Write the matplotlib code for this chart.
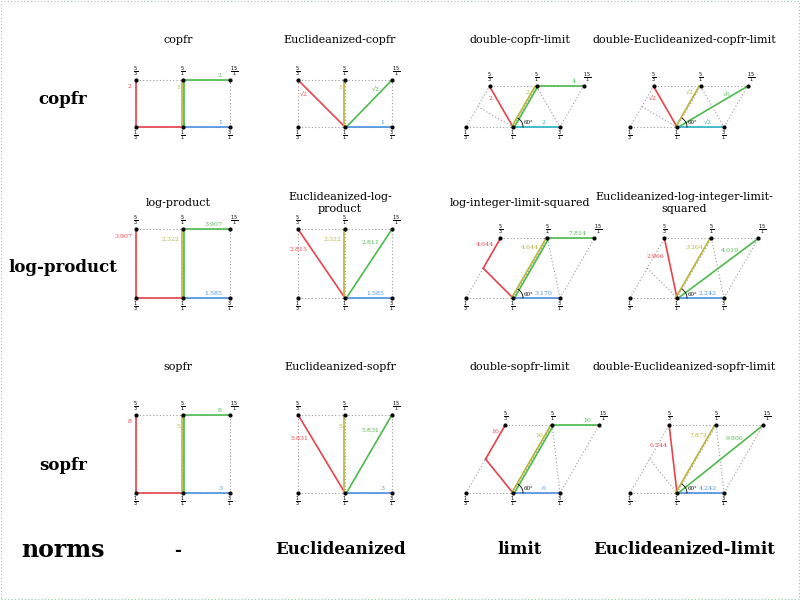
import numpy as np
import matplotlib.pyplot as plt

plt.rcParams['font.family'] = ['DejaVu Serif']

# panel data: (title, basis length for 3, basis length for 5, kind, labels red/yellow/green/blue)
row_names = ['copfr', 'log-product', 'sopfr']
col_names = ['-', 'Euclideanized', 'limit', 'Euclideanized-limit']
titles = [
    ['copfr', 'Euclideanized-copfr', 'double-copfr-limit', 'double-Euclideanized-copfr-limit'],
    ['log-product', 'Euclideanized-log-\nproduct', 'log-integer-limit-squared',
     'Euclideanized-log-integer-limit-\nsquared'],
    ['sopfr', 'Euclideanized-sopfr', 'double-sopfr-limit', 'double-Euclideanized-sopfr-limit'],
]
len3 = [1, 1.585, 3]
len5 = [1, 2.322, 5]
labels = [
    [['2', '1', '2', '1'], ['√2', '1', '√2', '1'], ['2', '2', '4', '2'], ['√2', '√2', '√6', '√2']],
    [['3.907', '2.322', '3.907', '1.585'], ['2.815', '2.322', '2.811', '1.585'],
     ['4.644', '4.644', '7.814', '3.170'], ['2.966', '3.204', '4.019', '2.242']],
    [['8', '5', '8', '3'], ['5.831', '5', '5.831', '3'],
     ['16', '16', '16', '6'], ['6.544', '7.872', '9.866', '4.242']],
]
fracs = {'bl': ('1', '3'), 'o': ('1', '1'), 'br': ('3', '1'),
         'tl': ('5', '3'), 'tm': ('5', '1'), 'tr': ('15', '1')}

col_x = [183, 345, 513, 677]
row_y = [127, 298, 493]
title_y = [40, 203, 367]
label_row_y = [100, 267, 465]
unit = 47

RED, YEL, GRN, BLU, CYA = '#e8434a', '#b9b43a', '#4cbb4c', '#4a90e2', '#27b3c6'

fig = plt.figure(figsize=(8, 6), dpi=100)
ax = fig.add_axes([0, 0, 1, 1])
ax.set_xlim(0, 800)
ax.set_ylim(600, 0)
ax.axis('off')
fig.patches.append(plt.Rectangle((0.001, 0.001), 0.998, 0.998, transform=fig.transFigure,
                                 fill=False, ec='#8fd18f', lw=0.8, ls=(0, (1, 2))))

for r in range(3):
    ax.text(63, label_row_y[r], row_names[r], fontsize=12, fontweight='bold', ha='center', va='center')
    k = len5[r] / len3[r]
    for c in range(4):
        cx, cy = col_x[c], row_y[r]
        ax.text(cx - 5 if c < 2 else cx + 7, title_y[r], titles[r][c], fontsize=8, ha='center', va='center')
        tri = c >= 2
        if tri:
            v5 = np.array([k / 2, k * np.sqrt(3) / 2])
        else:
            v5 = np.array([0, k])
        v3 = np.array([1.0, 0])
        pts = {'o': np.zeros(2), 'bl': -v3, 'br': v3, 'tm': v5, 'tl': v5 - v3, 'tr': v5 + v3}

        def P(p):
            return cx + p[0] * unit, cy - p[1] * unit

        def line(a, b, **kw):
            (x0, y0), (x1, y1) = P(a), P(b)
            ax.plot([x0, x1], [y0, y1], **kw)

        dot = dict(color='#999999', lw=0.8, ls=(0, (1, 2)))
        line(pts['bl'], pts['br'], **dot)
        line(pts['tl'], pts['tr'], **dot)
        line(pts['br'], pts['tr'], **dot)
        mid = (pts['bl'] + pts['tl']) / 2
        line(pts['bl'], pts['tl'], **dot)
        if tri:
            line(mid, pts['o'], **dot)
            line(pts['tm'], pts['br'], **dot)
        line(pts['o'], pts['tm'], **dot)

        blue = CYA if (r == 0 and tri) else BLU
        off = np.array([0.03, 0])
        lw = 1.2
        euclid = c in (1, 3)
        # red
        if euclid:
            line(pts['o'], pts['tl'], color=RED, lw=lw)
        elif tri:
            if r == 0:
                line(pts['o'], pts['tl'], color=RED, lw=lw)
            else:
                line(pts['o'], mid, color=RED, lw=lw)
                line(mid, pts['tl'], color=RED, lw=lw)
        else:
            line(pts['o'], pts['bl'], color=RED, lw=lw)
            line(pts['bl'], pts['tl'], color=RED, lw=lw)
        # yellow
        line(pts['o'] - off, pts['tm'] - off, color=YEL, lw=lw)
        # green
        if euclid:
            line(pts['o'] + off, pts['tr'], color=GRN, lw=lw)
        else:
            line(pts['o'] + off, pts['tm'] + off, color=GRN, lw=lw)
            line(pts['tm'] + off, pts['tr'], color=GRN, lw=lw)
        # blue
        line(pts['o'], pts['br'], color=blue, lw=lw)

        # value labels
        lr, ly, lg, lb = labels[r][c]
        if euclid or (tri and r == 0):
            p = P(pts['o'] * 0.3 + pts['tl'] * 0.7)
            ax.text(p[0] - 4, p[1], lr, color=RED, fontsize=4.5, ha='right', va='center')
        elif tri:
            p = P(pts['tl'])
            ax.text(p[0] - 6, p[1] + 6, lr, color=RED, fontsize=4.5, ha='right', va='center')
        else:
            p = P(pts['tl'])
            ax.text(p[0] - 4, p[1] + 7, lr, color=RED, fontsize=4.5, ha='right', va='center')
        p = P(pts['o'] * 0.15 + pts['tm'] * 0.85)
        ax.text(p[0] - 3, p[1], ly, color=YEL, fontsize=4.5, ha='right', va='center')
        if euclid:
            p = P(pts['o'] * 0.2 + pts['tr'] * 0.8)
            ax.text(p[0] - 3, p[1], lg, color=GRN, fontsize=4.5, ha='right', va='center')
        else:
            p = P(pts['tr'])
            ax.text(p[0] - 8, p[1] - 2, lg, color=GRN, fontsize=4.5, ha='right', va='bottom')
        if tri:
            p = P(pts['br'] * 0.65)
            ax.text(p[0], p[1] - 2, lb, color=blue, fontsize=4.5, ha='center', va='bottom')
        else:
            p = P(pts['br'])
            ax.text(p[0] - 8, p[1] - 2, lb, color=blue, fontsize=4.5, ha='right', va='bottom')

        # lattice points and fraction labels
        for key, p in pts.items():
            x, y = P(p)
            ax.plot(x, y, 'o', color='black', ms=2)
            num, den = fracs[key]
            top = key.startswith('t')
            ax.text(x + (4 if key == 'tr' else 0), y - 8 if top else y + 9,
                    r'$\frac{%s}{%s}$' % (num, den), fontsize=5, ha='center', va='center')

        if tri:
            t = np.linspace(0, np.pi / 3, 20)
            ax.plot(cx + 10 * np.cos(t), cy - 10 * np.sin(t), color='black', lw=0.6)
            ax.text(cx + 11, cy - 4, '60°', fontsize=4, ha='left', va='center')

for c in range(4):
    ax.text(col_x[c] - 5 if c < 2 else col_x[c] + 7, 550, col_names[c], fontsize=12,
            fontweight='bold', ha='center', va='center')
ax.text(63, 550, 'norms', fontsize=17, fontweight='bold', ha='center', va='center')

fig.savefig('out.png', dpi=100)
